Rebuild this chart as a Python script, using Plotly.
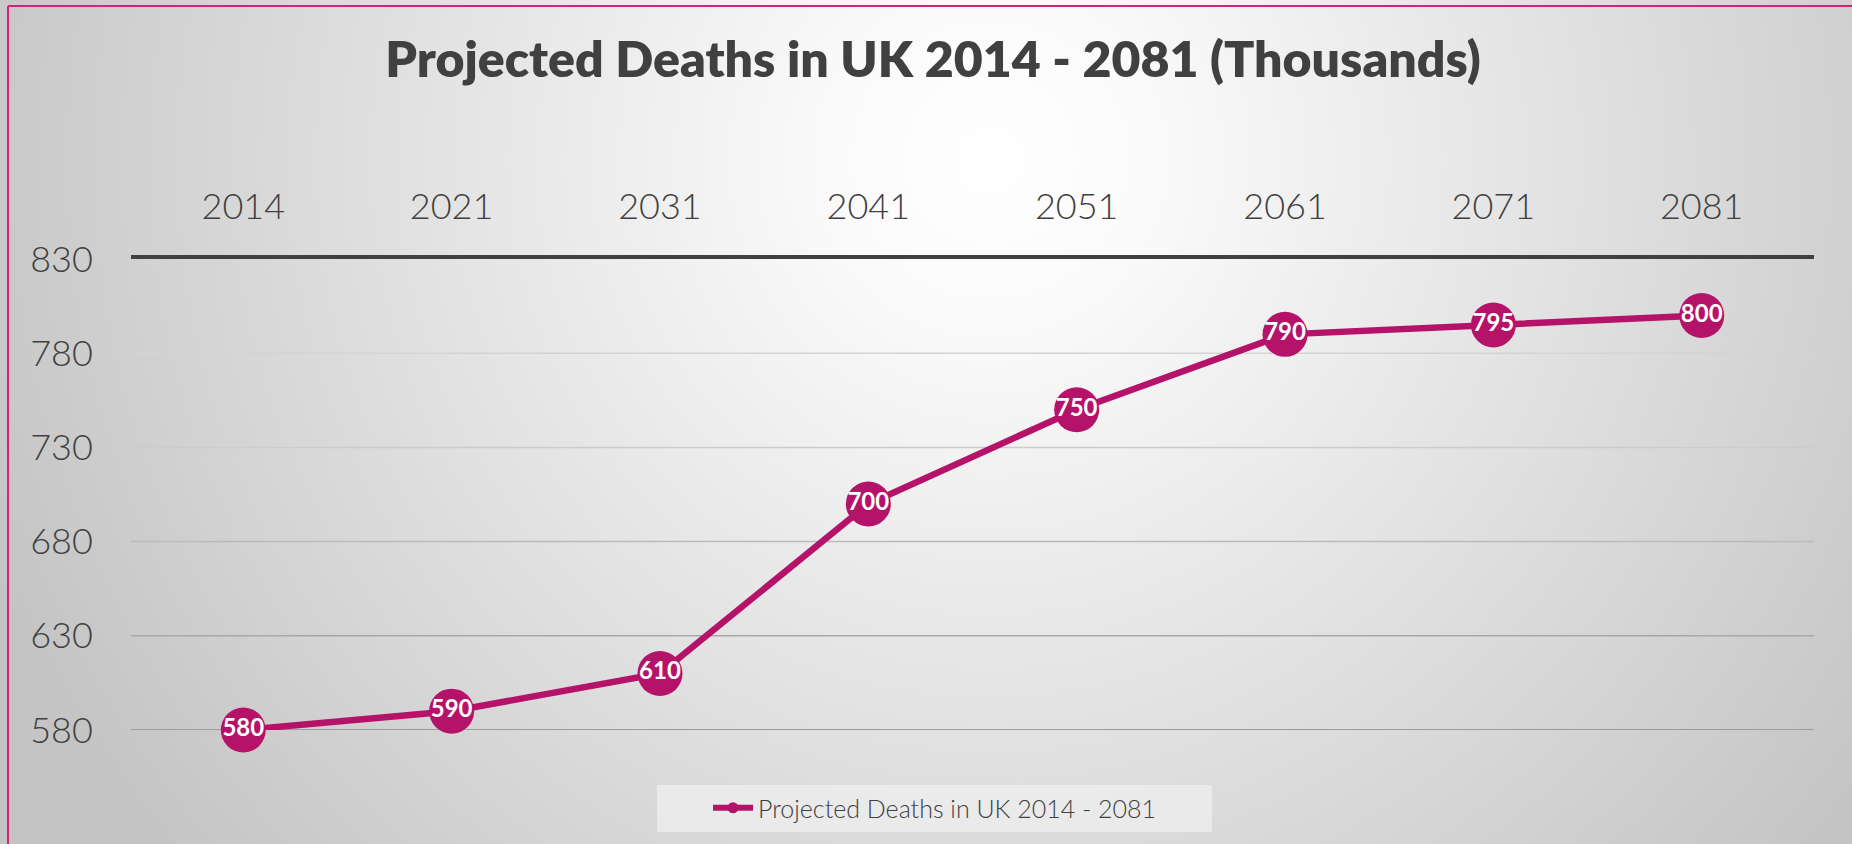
import base64
import plotly.graph_objects as go

# ---- data ----
years = ["2014", "2021", "2031", "2041", "2051", "2061", "2071", "2081"]
deaths = [580, 590, 610, 700, 750, 790, 795, 800]
y_ticks = [580, 630, 680, 730, 780, 830]
series_name = "Projected Deaths in UK 2014 - 2081"
title_text = "Projected Deaths in UK 2014 - 2081 (Thousands)"

# ---- layout geometry (pixels) ----
W, H = 1852, 844
L, R, T, B = 131, 1814, 259, 730
PW, PH = R - L, B - T


def px2x(px):
    return (px - L) / PW


def py2y(py):
    return (B - py) / PH


MAG = "#b5136a"
TXT = "#404040"
FONT = "Lato"

# radial gradient background as inline svg
svg = f'''<svg xmlns="http://www.w3.org/2000/svg" width="{W}" height="{H}" viewBox="0 0 {W} {H}" preserveAspectRatio="none">
<defs><radialGradient id="g" gradientUnits="userSpaceOnUse" cx="990" cy="160" r="1080">
<stop offset="0" stop-color="#ffffff"/><stop offset="0.15" stop-color="#fafafa"/>
<stop offset="1" stop-color="#c4c4c4"/></radialGradient></defs>
<rect x="0" y="0" width="{W}" height="{H}" fill="url(#g)"/></svg>'''
bg_src = "data:image/svg+xml;base64," + base64.b64encode(svg.encode()).decode()

fig = go.Figure()

fig.add_trace(go.Scatter(
    x=years, y=deaths, mode="lines+markers+text",
    text=[str(v) for v in deaths], textposition="middle center",
    textfont=dict(family=FONT, size=24, color="white", weight="bold"),
    line=dict(color=MAG, width=6.5),
    marker=dict(color=MAG, size=45, line=dict(width=0)),
    cliponaxis=False, showlegend=False, name=series_name,
))

# legend-only trace with small marker
fig.add_trace(go.Scatter(
    x=[None], y=[None], mode="lines+markers", name=series_name,
    line=dict(color=MAG, width=6), marker=dict(color=MAG, size=11),
    showlegend=True,
))

shapes = []
grid_colors = {580: "#9c9c9c", 630: "#a8a8a8", 680: "#bababa", 730: "#cccccc", 780: "#d4d4d4"}
for v in y_ticks:
    if v in grid_colors:
        shapes.append(dict(type="line", xref="paper", yref="y", x0=0, x1=1, y0=v, y1=v,
                           line=dict(color=grid_colors[v], width=2 if v == 580 else 1.5),
                           layer="below"))
# legend box
shapes.append(dict(type="rect", xref="paper", yref="paper",
                   x0=px2x(657), x1=px2x(1212), y0=py2y(832), y1=py2y(785),
                   fillcolor="rgba(238,238,238,0.8)", line=dict(width=0), layer="below"))
# pink frame (left and top edges)
shapes.append(dict(type="line", xref="paper", yref="paper",
                   x0=px2x(8), x1=px2x(8), y0=py2y(6), y1=py2y(H + 10),
                   line=dict(color="#d4237f", width=2)))
shapes.append(dict(type="line", xref="paper", yref="paper",
                   x0=px2x(8), x1=px2x(W + 10), y0=py2y(6), y1=py2y(6),
                   line=dict(color="#d4237f", width=2)))

fig.update_layout(
    width=W, height=H,
    margin=dict(l=L, r=W - R, t=T, b=H - B),
    paper_bgcolor="#d8d8d8",
    plot_bgcolor="rgba(0,0,0,0)",
    images=[dict(source=bg_src, xref="paper", yref="paper",
                 x=px2x(0), y=py2y(0), sizex=W / PW, sizey=H / PH,
                 xanchor="left", yanchor="top", sizing="stretch", layer="below")],
    title=dict(text=title_text, x=933 / W, xanchor="center", xref="container",
               y=1 - 59 / H, yanchor="middle", yref="container",
               font=dict(family=FONT, size=50, color=TXT, weight=800)),
    xaxis=dict(side="top", type="category", showline=True, linecolor=TXT, linewidth=4,
               showgrid=False, ticks="outside", ticklen=22, tickcolor="rgba(0,0,0,0)",
               tickfont=dict(family=FONT, size=36, color=TXT, weight=300), fixedrange=True),
    yaxis=dict(range=[580, 830], tickvals=y_ticks, showgrid=False, zeroline=False,
               showline=False, ticks="outside", ticklen=30, tickcolor="rgba(0,0,0,0)",
               tickfont=dict(family=FONT, size=36, color=TXT, weight=300), fixedrange=True),
    legend=dict(orientation="h", x=px2x(935), xanchor="center", y=py2y(808), yanchor="middle",
                bgcolor="rgba(0,0,0,0)", borderwidth=0,
                font=dict(family=FONT, size=25, color=TXT, weight=300), itemwidth=40),
    shapes=shapes,
    showlegend=True,
)

fig.write_html("out.html", config={"displayModeBar": False},
               post_script="document.body.style.margin='0';")
